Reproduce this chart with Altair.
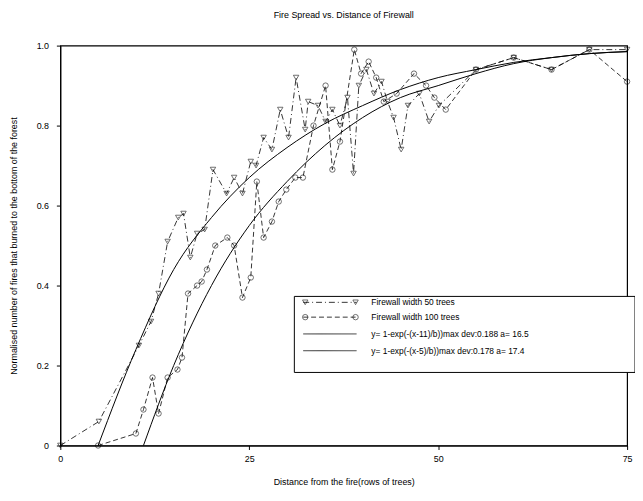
import altair as alt
import pandas as pd

# ---- data ----
tri_x = [0, 5.1, 10.4, 12.0, 13.0, 14.2, 15.6, 16.3, 17.2, 18.1, 19.1, 20.2, 22.0, 23.0, 24.1,
         25.2, 25.9, 26.9, 28.0, 29.1, 30.2, 31.2, 32.4, 32.8, 34.1, 35.1, 36.0, 37.0, 38.0,
         38.8, 39.5, 40.5, 41.5, 42.5, 43.3, 44.1, 45.1, 46.0, 47.5, 48.8, 50.1, 55, 60, 65, 70, 75]
tri_y = [0, 0.06, 0.25, 0.31, 0.38, 0.51, 0.57, 0.58, 0.47, 0.53, 0.54, 0.69, 0.63, 0.67, 0.63,
         0.71, 0.70, 0.77, 0.74, 0.84, 0.77, 0.92, 0.79, 0.86, 0.85, 0.81, 0.84, 0.80, 0.87,
         0.68, 0.90, 0.94, 0.88, 0.91, 0.86, 0.82, 0.74, 0.85, 0.88, 0.81, 0.85, 0.94, 0.97, 0.94, 0.99, 0.99]

cir_x = [5, 10, 11, 12.2, 13.0, 14.2, 15.5, 16.1, 16.9, 18.1, 18.7, 19.4, 20.5, 22.1, 23.0,
         24.1, 25.2, 26.0, 26.9, 28.0, 28.9, 29.9, 31.1, 32.1, 33.5, 35.1, 36.0, 37.0, 38.9,
         39.8, 40.8, 41.8, 42.8, 44.5, 46.8, 48.4, 49.5, 51, 55, 60, 65, 70, 75]
cir_y = [0, 0.03, 0.09, 0.17, 0.08, 0.17, 0.19, 0.22, 0.38, 0.40, 0.41, 0.44, 0.50, 0.52, 0.50,
         0.37, 0.42, 0.66, 0.52, 0.56, 0.61, 0.64, 0.67, 0.67, 0.80, 0.90, 0.69, 0.76, 0.99,
         0.93, 0.96, 0.92, 0.86, 0.88, 0.93, 0.90, 0.87, 0.84, 0.94, 0.97, 0.94, 0.99, 0.91]

fit1_x = [5, 10, 15, 20, 25, 30, 35, 40, 45, 50, 55, 60, 65, 70, 75]
fit1_y = [0, 0.24, 0.44, 0.57, 0.67, 0.745, 0.805, 0.85, 0.89, 0.92, 0.94, 0.958, 0.97, 0.98, 0.985]
fit2_x = [11, 15, 20, 25, 30, 35, 40, 45, 50, 55, 60, 65, 70, 75]
fit2_y = [0, 0.2, 0.40, 0.55, 0.66, 0.75, 0.82, 0.87, 0.90, 0.93, 0.955, 0.97, 0.98, 0.985]

x_ticks = [0, 25, 50, 75]
y_ticks = [0, 0.2, 0.4, 0.6, 0.8, 1.0]

legend_labels = [
    "Firewall width 50 trees",
    "Firewall width 100 trees",
    "y= 1-exp(-(x-11)/b))max dev:0.188 a= 16.5",
    "y= 1-exp(-(x-5)/b))max dev:0.178 a= 17.4",
]

FONT = "Liberation Sans"
xs = alt.Scale(domain=[0, 75], nice=False, zero=False)
ys = alt.Scale(domain=[0, 1], nice=False)

xaxis = alt.Axis(values=x_ticks, title="Distance from the fire(rows of trees)", grid=False,
                 tickSize=4, labelPadding=5, titlePadding=14, labelFontSize=9, titleFontSize=9,
                 titleFontWeight="normal", labelFont=FONT, titleFont=FONT, domainColor="black",
                 tickColor="black", labelColor="black", titleColor="black", labelFlush=False)
yaxis = alt.Axis(values=y_ticks, title="Normalised number of fires that burned to the bottom of the forest",
                 grid=False, tickSize=4, labelPadding=8, titlePadding=18, labelFontSize=9, titleFontSize=9,
                 titleFontWeight="normal", labelFont=FONT, titleFont=FONT, domainColor="black",
                 tickColor="black", labelColor="black", titleColor="black", labelFlush=False,
                 labelExpr="datum.value == 0 ? '0' : format(datum.value, '.1f')")

tri = pd.DataFrame({"x": tri_x, "y": tri_y})
cir = pd.DataFrame({"x": cir_x, "y": cir_y})
f1 = pd.DataFrame({"x": fit1_x, "y": fit1_y})
f2 = pd.DataFrame({"x": fit2_x, "y": fit2_y})

enc = dict(x=alt.X("x:Q", scale=xs, axis=xaxis), y=alt.Y("y:Q", scale=ys, axis=yaxis))

fit1 = alt.Chart(f1).mark_line(color="black", strokeWidth=1, interpolate="monotone").encode(**enc)
fit2 = alt.Chart(f2).mark_line(color="black", strokeWidth=1, interpolate="monotone").encode(**enc)
tri_line = alt.Chart(tri).mark_line(color="black", strokeWidth=0.8, strokeDash=[6, 3, 1, 3]).encode(**enc)
tri_pts = alt.Chart(tri).mark_point(shape="triangle-down", filled=False, size=30, color="black",
                                    strokeWidth=0.8).encode(**enc)
cir_line = alt.Chart(cir).mark_line(color="black", strokeWidth=0.8, strokeDash=[5, 3]).encode(**enc)
cir_pts = alt.Chart(cir).mark_point(shape="circle", filled=False, size=30, color="black",
                                    strokeWidth=0.8).encode(**enc)

one = pd.DataFrame({"a": [0]})
layers = [fit1, fit2, tri_line, cir_line, tri_pts, cir_pts]

# legend box (pixel offsets within the plot area)
box = alt.Chart(one).mark_rect(fill="white", stroke="black", strokeWidth=1).encode(
    x=alt.value(237), x2=alt.value(582), y=alt.value(254), y2=alt.value(331))
layers.append(box)
row_y = [260, 275, 292, 309]
dashes = [[6, 3, 1, 3], [5, 3], [1, 0], [1, 0]]
shapes = ["triangle-down", "circle", None, None]
for i, lab in enumerate(legend_labels):
    yy = row_y[i]
    layers.append(alt.Chart(one).mark_rule(color="black", strokeWidth=0.8, strokeDash=dashes[i]).encode(
        x=alt.value(246), x2=alt.value(300), y=alt.value(yy)))
    if shapes[i]:
        for px in (248, 299):
            layers.append(alt.Chart(one).mark_point(shape=shapes[i], filled=False, size=30, color="black",
                                                    strokeWidth=0.8).encode(x=alt.value(px), y=alt.value(yy)))
    layers.append(alt.Chart(one).mark_text(align="left", baseline="middle", fontSize=8.5, font=FONT,
                                           color="black").encode(
        x=alt.value(315), y=alt.value(yy), text=alt.value(lab)))

chart = alt.layer(*layers).properties(
    width=574, height=405,
    background="white",
    title=alt.TitleParams("Fire Spread vs. Distance of Firewall", fontSize=9, fontWeight="normal",
                          font=FONT, color="black", offset=22, anchor="middle"),
    autosize=alt.AutoSizeParams(type="none"),
    padding={"left": 53, "top": 35, "right": 8, "bottom": 45},
).configure_view(stroke="black", strokeWidth=1.2)

chart.save("out.html", embed_options={"renderer": "svg", "actions": False})
